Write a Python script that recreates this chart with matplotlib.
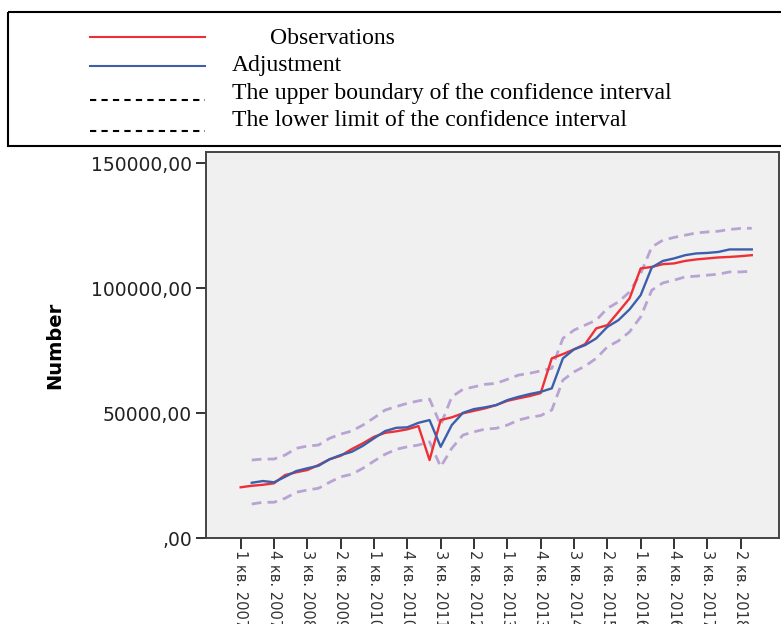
import matplotlib
matplotlib.use("Agg")
import matplotlib.pyplot as plt
import numpy as np
from matplotlib.patches import Rectangle
from matplotlib.lines import Line2D
from matplotlib.ticker import FuncFormatter

# quarters 1 кв. 2007 .. 3 кв. 2018
periods = [f"{q} кв. {y}" for y in range(2007, 2019) for q in range(1, 5)][:47]

observations = [20300, 20900, 21300, 21900, 25200, 26300, 27200, 29200, 31500, 32900,
                35600, 37900, 40500, 42100, 42700, 43500, 44800, 31200, 47200, 48300,
                49900, 50900, 51900, 53200, 54900, 55900, 56800, 58000, 71900, 73600,
                75500, 77600, 83900, 85200, 90500, 95900, 107900, 108500, 109600, 109900,
                110900, 111500, 111900, 112300, 112500, 112800, 113200]

# model starts one quarter later
adjustment = [np.nan, 22100, 22800, 22300, 24500, 26800, 27900, 28900, 31500, 33200,
              34500, 36900, 39900, 42800, 44100, 44300, 46100, 47200, 36500, 45200,
              50100, 51600, 52300, 53200, 55200, 56500, 57600, 58500, 59900, 71900,
              75500, 77200, 79900, 84500, 87200, 91500, 97200, 108300, 110900, 111900,
              113200, 113900, 114100, 114500, 115500, 115500, 115500]

upper = [np.nan, 31200, 31600, 31600, 33200, 35900, 36800, 37200, 39900, 41600,
         42800, 45200, 48100, 51200, 52600, 53900, 54900, 55600, 45200, 56500,
         59500, 60500, 61500, 61900, 63500, 65200, 65900, 66900, 67900, 79900,
         83200, 85200, 87200, 91900, 94500, 98500, 105900, 116500, 119200, 120300,
         121200, 122100, 122500, 122800, 123500, 123900, 124000]

lower = [np.nan, 13600, 14300, 14300, 15900, 18300, 19200, 19900, 22300, 24500,
         25500, 27900, 30800, 33500, 35500, 36500, 37200, 38500, 28500, 35900,
         41200, 42500, 43600, 43900, 45200, 47200, 48300, 49000, 51200, 63200,
         66500, 68800, 71900, 76500, 78900, 82500, 88500, 99200, 102100, 103200,
         104500, 104800, 105200, 105600, 106500, 106500, 106800]

W, H = 781, 624
fig = plt.figure(figsize=(W / 100, H / 100), dpi=100)

ax = fig.add_axes([206 / W, 1 - 538 / H, 573 / W, 386 / H])
ax.set_facecolor("#f0f0f0")
x = np.arange(len(periods))

ax.plot(x, upper, color="#b9a3d3", lw=2, ls=(0, (3.5, 2.2)))
ax.plot(x, lower, color="#b9a3d3", lw=2, ls=(0, (3.5, 2.2)))
ax.plot(x, observations, color="#ee3036", lw=1.7)
ax.plot(x, adjustment, color="#3d5fab", lw=1.7)

ax.set_xlim(-3.12, 48.45)
ax.set_ylim(0, 154500)
ax.set_yticks([0, 50000, 100000, 150000])
ax.yaxis.set_major_formatter(FuncFormatter(lambda v, p: f"{int(v)},00" if v else ",00"))
ax.set_xticks(x[::3])
ax.set_xticklabels(periods[::3], rotation=270, fontsize=10.5, color="#222222")
ax.tick_params(axis="y", length=7, width=1.4, labelsize=13.5, pad=3, colors="#333333",
               labelcolor="#222222")
ax.tick_params(axis="x", length=8, width=1.4, pad=1, colors="#333333")
for s in ax.spines.values():
    s.set_color("#444444")
    s.set_linewidth(1.4)

fig.text(55 / W, 1 - 345 / H, "Number", rotation=90, ha="center", va="center",
         fontsize=14, fontweight="bold")

# legend box drawn in pixel coordinates
lax = fig.add_axes([0, 0, 1, 1])
lax.set_xlim(0, W)
lax.set_ylim(H, 0)
lax.axis("off")
lax.add_patch(Rectangle((8, 12), 800, 134, fill=False, lw=1.5, ec="black"))
lax.add_line(Line2D([90, 205], [37, 37], color="#ee3036", lw=1.5))
lax.add_line(Line2D([90, 205], [66, 66], color="#3d5fab", lw=1.5))
lax.add_line(Line2D([90, 205], [100, 100], color="black", lw=1.5, ls=(0, (3, 2.5))))
lax.add_line(Line2D([90, 205], [131, 131], color="black", lw=1.5, ls=(0, (3, 2.5))))
serif = "Liberation Serif"
fs = 17
lax.text(270, 39, "Observations", family=serif, fontsize=fs, va="center")
lax.text(232, 65, "Adjustment", family=serif, fontsize=fs, va="center")
lax.text(232, 93, "The upper boundary of the confidence interval", family=serif,
         fontsize=fs, va="center")
lax.text(232, 121, "The lower limit of the confidence interval", family=serif,
         fontsize=fs, va="center")

fig.savefig("out.png", dpi=100)
